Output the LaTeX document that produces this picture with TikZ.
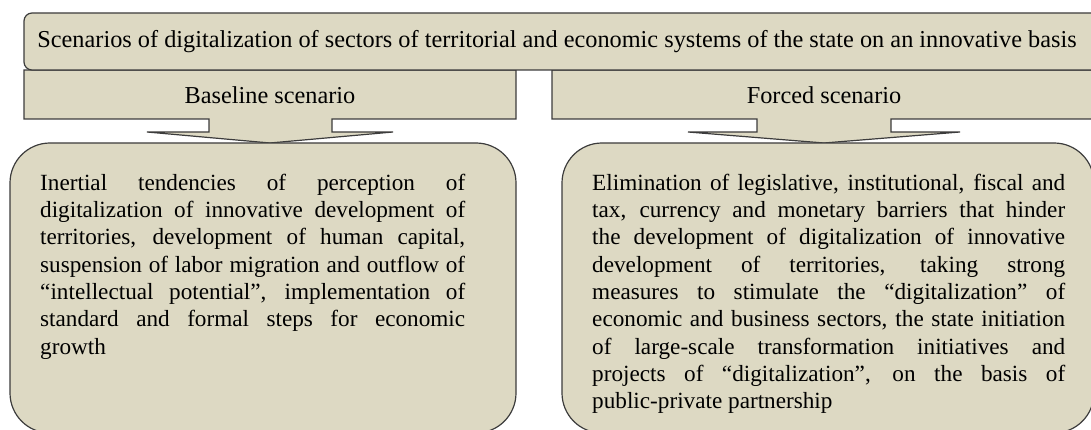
\documentclass[tikz,border=0pt]{standalone}
\usepackage{fontspec}
\setmainfont{Liberation Serif}
\definecolor{boxfill}{HTML}{DDD9C3}
\definecolor{boxline}{HTML}{3C3C3C}
\begin{document}
\begin{tikzpicture}[x=1pt,y=-1pt,
  panel/.style={draw=boxline,fill=boxfill,line width=1.2pt,line join=miter},
  plaintext/.style={inner sep=0pt,font=\fontsize{24.3}{28}\selectfont},
  bodytext/.style={inner sep=0pt,anchor=north west,align=justify,
    font=\fontsize{23.2}{27.3}\selectfont}]
\useasboundingbox (0,0) rectangle (1091,430);
\clip (0,0) rectangle (1091,430);

% scenario headers with down-pointing callout arrows
\draw[panel] (24,70) -- (516,70) -- (516,119) -- (332,119) -- (332,132) -- (393,132)
  -- (270,143) -- (147,132) -- (209,132) -- (209,119) -- (24,119) -- cycle;
\draw[panel] (552,70) -- (1110,70) -- (1110,119) -- (891,119) -- (891,132) -- (960,132)
  -- (824,143) -- (688,132) -- (757,132) -- (757,119) -- (552,119) -- cycle;

% title bar
\draw[panel] (1110,13) [rounded corners=8pt] -- (24,13) -- (24,70) [sharp corners] -- (1110,70);
\node[plaintext] (title) at (557,41.5) {Scenarios of digitalization of sectors of territorial and economic systems of the state on an innovative basis};

\node[plaintext] (base) at (270,95) {Baseline scenario};
\node[plaintext] (forced) at (824,95) {Forced scenario};

% description panels
\draw[panel,rounded corners=40pt] (10,143) rectangle (516,433);
\draw[panel,rounded corners=40pt] (562,143) rectangle (1094,433);

% justified body text, one stretched box per printed line
\node[bodytext,text width=425pt] (basetext) at (40,170.9) {%
\spaceskip=0pt\xspaceskip=0pt
\makebox[\hsize][s]{\strut Inertial tendencies of perception of}\\
\makebox[\hsize][s]{digitalization of innovative development of}\\
\makebox[\hsize][s]{territories, development of human capital,}\\
\makebox[\hsize][s]{suspension of labor migration and outflow of}\\
\makebox[\hsize][s]{“intellectual potential”, implementation of}\\
\makebox[\hsize][s]{standard and formal steps for economic}\\
growth};

\node[bodytext,text width=473pt] (forcedtext) at (592,170.9) {%
\spaceskip=0pt\xspaceskip=0pt
\makebox[\hsize][s]{\strut Elimination of legislative, institutional, fiscal and}\\
\makebox[\hsize][s]{tax, currency and monetary barriers that hinder}\\
\makebox[\hsize][s]{the development of digitalization of innovative}\\
\makebox[\hsize][s]{development of territories, taking strong}\\
\makebox[\hsize][s]{measures to stimulate the “digitalization” of}\\
\makebox[\hsize][s]{economic and business sectors, the state initiation}\\
\makebox[\hsize][s]{of large-scale transformation initiatives and}\\
\makebox[\hsize][s]{projects of “digitalization”, on the basis of}\\
public-private partnership};
\end{tikzpicture}
\end{document}
